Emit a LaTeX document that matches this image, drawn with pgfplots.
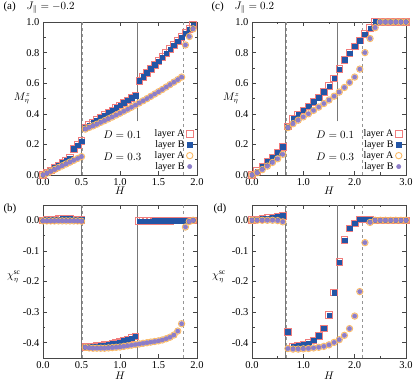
\documentclass[border=0pt]{standalone}
\usepackage{fontspec}
\setmainfont{Liberation Serif}
\usepackage{pgfplots}
\usepackage{pgfplotstable}
\pgfplotsset{compat=1.18}

\definecolor{cA}{RGB}{240,125,125}
\definecolor{cB}{RGB}{35,85,165}
\definecolor{cC}{RGB}{250,185,100}
\definecolor{cD}{RGB}{140,125,200}
\definecolor{lnS}{RGB}{120,120,120}
\definecolor{lnD}{RGB}{150,150,150}
\definecolor{frm}{RGB}{70,70,70}

% J = -0.2 : H, M (D=0.1), M (D=0.3)
\pgfplotstableread{
H m1 m3
0.00 0.000 0.000
0.05 0.016 0.012
0.10 0.031 0.024
0.15 0.047 0.036
0.20 0.063 0.048
0.25 0.079 0.060
0.30 0.094 0.072
0.35 0.110 0.084
0.40 0.170 0.096
0.45 0.196 0.108
0.50 0.222 0.120
0.55 0.310 0.300
0.60 0.326 0.311
0.65 0.342 0.321
0.70 0.358 0.332
0.75 0.375 0.344
0.80 0.391 0.355
0.85 0.407 0.367
0.90 0.423 0.379
0.95 0.439 0.392
1.00 0.455 0.404
1.05 0.472 0.417
1.10 0.488 0.430
1.15 0.504 0.443
1.20 0.520 0.457
1.25 0.615 0.471
1.30 0.641 0.485
1.35 0.667 0.499
1.40 0.693 0.514
1.45 0.719 0.529
1.50 0.745 0.544
1.55 0.771 0.559
1.60 0.797 0.575
1.65 0.823 0.591
1.70 0.849 0.607
1.75 0.875 0.623
1.80 0.901 0.640
1.85 0.927 0.850
1.90 0.953 0.905
1.95 0.979 0.955
}\tabA

\pgfplotstableread{
H c1 c3
0.00 0.000 -0.002
0.05 0.001 -0.002
0.10 0.002 -0.002
0.15 0.003 -0.002
0.20 0.004 -0.002
0.25 0.005 -0.002
0.30 0.005 -0.002
0.35 0.005 -0.002
0.40 0.003 -0.002
0.45 0.002 -0.002
0.50 0.001 -0.003
0.55 -0.413 -0.415
0.60 -0.413 -0.417
0.65 -0.412 -0.418
0.70 -0.411 -0.418
0.75 -0.410 -0.418
0.80 -0.408 -0.418
0.85 -0.406 -0.417
0.90 -0.404 -0.416
0.95 -0.401 -0.415
1.00 -0.398 -0.414
1.05 -0.394 -0.412
1.10 -0.390 -0.410
1.15 -0.385 -0.408
1.20 -0.379 -0.406
1.25 -0.003 -0.404
1.30 -0.003 -0.402
1.35 -0.003 -0.400
1.40 -0.003 -0.398
1.45 -0.002 -0.396
1.50 -0.002 -0.394
1.55 -0.002 -0.391
1.60 -0.002 -0.387
1.65 -0.002 -0.382
1.70 -0.001 -0.375
1.75 -0.001 -0.362
1.80 -0.001 -0.338
1.85 -0.001 -0.022
1.90 0.000 -0.004
1.95 0.000 0.000
}\tabB

% J = 0.2
\pgfplotstableread{
H m1 m3
0.0 0.000 0.000
0.1 0.025 0.015
0.2 0.055 0.035
0.3 0.085 0.058
0.4 0.115 0.082
0.5 0.147 0.106
0.6 0.185 0.135
0.7 0.317 0.310
0.8 0.368 0.335
0.9 0.394 0.358
1.0 0.423 0.380
1.1 0.449 0.400
1.2 0.478 0.422
1.3 0.507 0.444
1.4 0.544 0.467
1.5 0.581 0.490
1.6 0.632 0.515
1.7 0.692 0.542
1.8 0.753 0.572
1.9 0.797 0.605
2.0 0.841 0.640
2.1 0.879 0.692
2.2 0.921 0.800
2.3 0.960 0.892
2.4 1.000 0.963
2.5 1.000 1.000
2.6 1.000 1.000
2.7 1.000 1.000
2.8 1.000 1.000
2.9 1.000 1.000
3.0 1.000 1.000
}\tabC

\pgfplotstableread{
H c1 c3
0.0 0.002 0.000
0.1 0.003 0.000
0.2 0.005 0.000
0.3 0.007 0.000
0.4 0.009 0.000
0.5 0.012 -0.001
0.6 0.015 -0.005
0.7 -0.364 -0.419
0.8 -0.412 -0.421
0.9 -0.410 -0.421
1.0 -0.407 -0.420
1.1 -0.401 -0.419
1.2 -0.392 -0.417
1.3 -0.377 -0.415
1.4 -0.353 -0.412
1.5 -0.310 -0.407
1.6 -0.236 -0.399
1.7 -0.137 -0.390
1.8 -0.065 -0.376
1.9 -0.026 -0.354
2.0 -0.010 -0.313
2.1 0.003 -0.233
2.2 0.003 -0.073
2.3 0.002 -0.007
2.4 0.000 0.000
2.5 0.000 0.000
2.6 0.000 0.000
2.7 0.000 0.000
2.8 0.000 0.000
2.9 0.000 0.000
3.0 0.000 0.000
}\tabD

\pgfplotsset{
  panel/.style={
    width=154pt, height=153pt, scale only axis,
    clip=false,
    axis line style={frm, line width=0.7pt},
    every tick/.style={frm, line width=0.5pt},
    tick align=inside,
    major tick length=4pt, minor tick length=2.5pt,
    font=\fontsize{10.5}{12}\selectfont,
    tick label style={font=\fontsize{10.5}{12}\selectfont},
    xticklabel style={/pgf/number format/.cd, fixed, fixed zerofill, precision=1, assume math mode=true},
    yticklabel style={/pgf/number format/.cd, fixed, fixed zerofill, precision=1, assume math mode=true},
    every axis y label/.style={at={(rel axis cs:-0.135,0.5)}, anchor=center, inner sep=0pt},
    every axis x label/.style={at={(rel axis cs:0.5,-0.105)}, anchor=center},
    legend style={draw=none, fill=none, font=\fontsize{10}{12}\selectfont, row sep=-1.5pt,
      at={(rel axis cs:0.995,0.0)}, anchor=south east},
    legend plot pos=right, legend cell align=right,
  },
  sqA/.style={only marks, mark=square, mark size=3.3pt, mark options={draw=cA, line width=0.9pt}},
  sqB/.style={only marks, mark=square*, mark size=2.3pt, mark options={draw=cB, fill=cB}},
  ciA/.style={only marks, mark=o, mark size=3.2pt, mark options={draw=cC, line width=0.9pt}},
  ciB/.style={only marks, mark=*, mark size=2.2pt, mark options={draw=cD, fill=cD}},
  vS/.style={lnS, line width=0.8pt, no markers, forget plot},
  vD/.style={lnD, line width=0.8pt, dashed, no markers, forget plot},
}

\begin{document}
\begin{tikzpicture}
\useasboundingbox (0,0) rectangle (415pt,383pt);

% (a)
\begin{axis}[panel, at={(43pt,208pt)}, anchor=south west,
  xmin=0, xmax=2, ymin=0, ymax=1,
  xtick={0,0.5,1,1.5,2}, ytick={0,0.2,0.4,0.6,0.8,1},
  minor y tick num=1,
  xlabel={$H$}, ylabel={$M^z_\eta$}]
\addplot[vS] coordinates {(0.505,0) (0.505,1)};
\addplot[vD] coordinates {(0.515,0) (0.515,1)};
\addplot[vS] coordinates {(1.23,0.35) (1.23,1)};
\addplot[vD] coordinates {(1.825,0) (1.825,1)};
\addplot[sqA] table[x=H,y=m1] {\tabA};
\addplot[sqB] table[x=H,y=m1] {\tabA};
\addplot[ciA] table[x=H,y=m3] {\tabA};
\addplot[ciB] table[x=H,y=m3] {\tabA};
\legend{layer A, layer B, layer A, layer B}
\node at (rel axis cs:0.515,0.262) {$D=0.1$};
\node at (rel axis cs:0.515,0.118) {$D=0.3$};
\end{axis}

% (b)
\begin{axis}[panel, at={(43pt,25pt)}, anchor=south west,
  xmin=0, xmax=2, ymin=-0.45, ymax=0.05,
  xtick={0,0.5,1,1.5,2}, ytick={-0.4,-0.3,-0.2,-0.1,0},
  minor y tick num=1,
  xlabel={$H$}, ylabel={$\chi^{\mathrm{sc}}_\eta$},
  every axis y label/.style={at={(rel axis cs:-0.19,0.53)}, anchor=center, inner sep=0pt},
  every axis x label/.style={at={(rel axis cs:0.5,-0.118)}, anchor=center}]
\addplot[vS] coordinates {(0.505,-0.45) (0.505,0.05)};
\addplot[vD] coordinates {(0.515,-0.45) (0.515,0.05)};
\addplot[vS] coordinates {(1.23,-0.45) (1.23,0.05)};
\addplot[vD] coordinates {(1.825,-0.45) (1.825,0.05)};
\addplot[sqA] table[x=H,y=c1] {\tabB};
\addplot[sqB] table[x=H,y=c1] {\tabB};
\addplot[ciA] table[x=H,y=c3] {\tabB};
\addplot[ciB] table[x=H,y=c3] {\tabB};
\end{axis}

% (c)
\begin{axis}[panel, at={(252pt,208pt)}, anchor=south west,
  xmin=0, xmax=3, ymin=0, ymax=1,
  xtick={0,1,2,3}, ytick={0,0.2,0.4,0.6,0.8,1},
  minor x tick num=1, minor y tick num=1,
  xlabel={$H$}, ylabel={$M^z_\eta$}]
\addplot[vS] coordinates {(0.655,0) (0.655,1)};
\addplot[vD] coordinates {(0.665,0) (0.665,1)};
\addplot[vS] coordinates {(1.67,0.35) (1.67,1)};
\addplot[vD] coordinates {(2.15,0) (2.15,1)};
\addplot[sqA] table[x=H,y=m1] {\tabC};
\addplot[sqB] table[x=H,y=m1] {\tabC};
\addplot[ciA] table[x=H,y=m3] {\tabC};
\addplot[ciB] table[x=H,y=m3] {\tabC};
\legend{layer A, layer B, layer A, layer B}
\node at (rel axis cs:0.54,0.262) {$D=0.1$};
\node at (rel axis cs:0.54,0.118) {$D=0.3$};
\end{axis}

% (d)
\begin{axis}[panel, at={(252pt,25pt)}, anchor=south west,
  xmin=0, xmax=3, ymin=-0.45, ymax=0.05,
  xtick={0,1,2,3}, ytick={-0.4,-0.3,-0.2,-0.1,0},
  minor x tick num=1, minor y tick num=1,
  xlabel={$H$}, ylabel={$\chi^{\mathrm{sc}}_\eta$},
  every axis y label/.style={at={(rel axis cs:-0.215,0.53)}, anchor=center, inner sep=0pt},
  every axis x label/.style={at={(rel axis cs:0.5,-0.118)}, anchor=center}]
\addplot[vS] coordinates {(0.655,-0.45) (0.655,0.05)};
\addplot[vD] coordinates {(0.665,-0.45) (0.665,0.05)};
\addplot[vS] coordinates {(1.67,-0.45) (1.67,0.05)};
\addplot[vD] coordinates {(2.15,-0.45) (2.15,0.05)};
\addplot[sqA] table[x=H,y=c1] {\tabD};
\addplot[sqB] table[x=H,y=c1] {\tabD};
\addplot[ciA] table[x=H,y=c3] {\tabD};
\addplot[ciB] table[x=H,y=c3] {\tabD};
\end{axis}

\node[anchor=west, font=\fontsize{11}{13}\selectfont] at (0pt,375pt) {(a)\quad$J_\parallel=-0.2$};
\node[anchor=west, font=\fontsize{11}{13}\selectfont] at (0pt,174pt) {(b)};
\node[anchor=west, font=\fontsize{11}{13}\selectfont] at (208pt,375pt) {(c)\quad$J_\parallel=0.2$};
\node[anchor=west, font=\fontsize{11}{13}\selectfont] at (210pt,174pt) {(d)};
\end{tikzpicture}
\end{document}
